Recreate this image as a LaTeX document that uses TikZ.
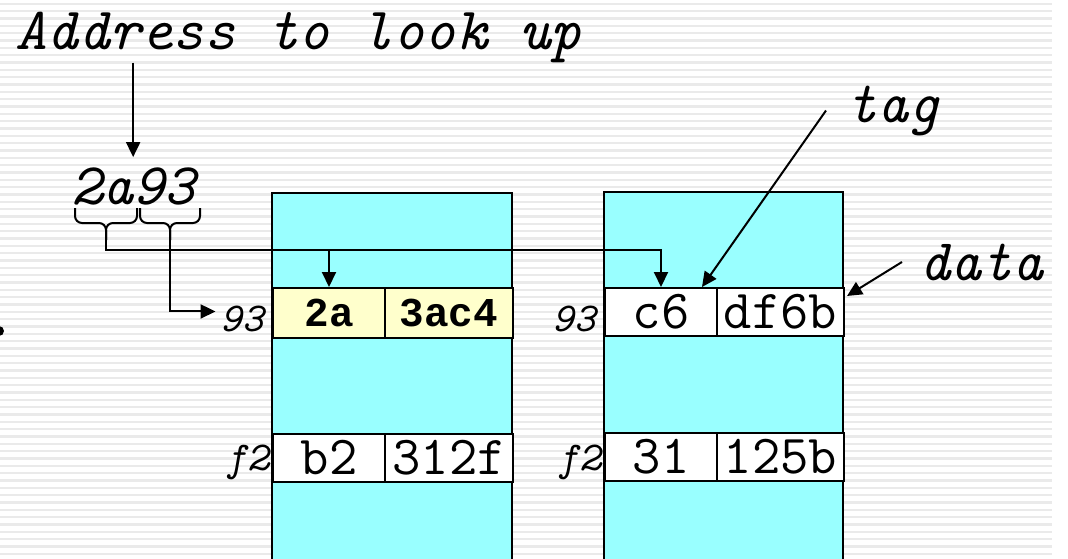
\documentclass[tikz,border=0pt]{standalone}
\usepackage{fontspec}
\newfontfamily\hitmono{Liberation Mono}
\usetikzlibrary{arrows.meta}
\definecolor{setcyan}{HTML}{99FFFF}
\definecolor{hityellow}{HTML}{FFFFCC}
\definecolor{stripegray}{HTML}{EAEAEA}
\def\addrbrace(#1,#2,#3){\draw[line width=2pt, rounded corners=7pt] (#1,#3) -- (#1,#3+15) -- ({(#1+#2)/2},#3+15) -- ({(#1+#2)/2},#3+32);
	\draw[line width=2pt, rounded corners=7pt] (#2,#3) -- (#2,#3+15) -- ({(#1+#2)/2},#3+15) -- ({(#1+#2)/2},#3+32);}

\begin{document}
\begin{tikzpicture}[x=1pt, y=-1pt,
	arr/.style={line width=2pt, -{Triangle[length=15pt,width=14pt]}},
	cell/.style={draw, fill=white, line width=2pt, inner sep=0pt, anchor=north west, minimum height=50pt, font=\ttfamily\fontsize{55}{60}\selectfont},
	hitcell/.style={cell, fill=hityellow, font=\hitmono\bfseries\fontsize{41}{48}\selectfont},
	idx/.style={inner sep=0pt, anchor=base east, font=\ttfamily\itshape\fontsize{41}{46}\selectfont},
	note/.style={inner sep=0pt, anchor=base west, font=\ttfamily\itshape\fontsize{59}{66}\selectfont}]
				\useasboundingbox (0,0) rectangle (1068,558);
				\fill[white] (0,0) rectangle (1068,558);
				\foreach \i in {0,...,76}
					\fill[stripegray] (0,{2.7+7.333*\i}) rectangle (1052,{5.0+7.333*\i});
				\fill (-1,331) circle (5pt);
				
				\draw[fill=setcyan, line width=2.5pt] (272,193) rectangle (512,570);
				\draw[fill=setcyan, line width=2.5pt] (604,192) rectangle (843,570);
				
				\node[hitcell, minimum width=112pt] (tagA) at (272,287) {2a};
				\node[hitcell, minimum width=128pt] (dataA) at (384,287) {3ac4};
				\node[cell, minimum width=112pt, minimum height=48pt] (tagAf) at (272,433) {b2};
				\node[cell, minimum width=128pt, minimum height=48pt] (dataAf) at (384,433) {312f};
				
				\node[cell, minimum width=112pt, minimum height=48pt] (tagB) at (604,287) {c6};
				\node[cell, minimum width=127pt, minimum height=48pt] (dataB) at (716,287) {df6b};
				\node[cell, minimum width=112pt, minimum height=48pt] (tagBf) at (604,432) {31};
				\node[cell, minimum width=127pt, minimum height=48pt] (dataBf) at (716,432) {125b};
				
				\node[idx] (idxA) at (264,331) {93};
				\node[idx] (idxB) at (596,331) {93};
				\node[idx] (idxAf) at (269,470) {f2};
				\node[idx] (idxBf) at (601,470) {f2};
				
				\node[note, font=\ttfamily\itshape\fontsize{60}{66}\selectfont] (lookup) at (15,49) {Address to look up};
				\node[note] (addr) at (71,204) {2a93};
				\node[note] (tagl) at (846,122) {tag};
				\node[note] (datal) at (919,280) {data};
				
				\draw[arr, shorten >=10pt] (lookup.south -| addr.north) -- (addr.north);
				\addrbrace(75,137,208)
				\addrbrace(140,200,208)
				\coordinate (tipA) at (106,240);
				\coordinate (tipB) at (170,240);
				\draw[arr] (tipA) -- ++(0,10) -| (tagA.north);
				\draw[arr] (tipA) -- ++(0,10) -| (tagB.north);
				\draw[arr] (tipB) |- ([xshift=-5pt, yshift=7pt]idxA.west);
				
				\draw[arr] ([xshift=-20pt]tagl.west) -- ([xshift=-16pt]tagB.north east);
				\draw[arr] ([xshift=-17pt]datal.west) -- ([xshift=2pt, yshift=-9pt]dataB.north east);
			\end{tikzpicture}
\end{document}
